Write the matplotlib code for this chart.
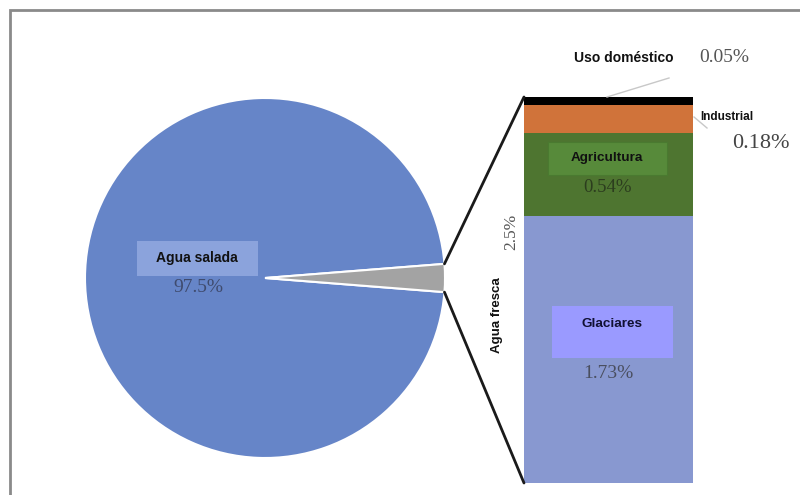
import matplotlib.pyplot as plt
from matplotlib.patches import ConnectionPatch, Rectangle
import numpy as np

# distribucion del agua (%)
pie_labels = ['Agua salada', 'Agua fresca']
pie_values = [97.5, 2.5]
bar_labels = ['Glaciares', 'Agricultura', 'Industrial', 'Uso doméstico']
bar_values = [1.73, 0.54, 0.18, 0.05]

W, H = 800, 495
fig = plt.figure(figsize=(8, 4.95), dpi=100)
fig.patch.set_facecolor('white')

def fx(x):
    return x / W

def fy(y):
    return 1 - y / H

sans = ['Liberation Sans', 'DejaVu Sans']
serif = ['Liberation Serif', 'DejaVu Serif']

# marco gris
fig.patches.append(Rectangle((fx(10), fy(505)), fx(800), 495 / H,
                             transform=fig.transFigure, fill=False,
                             edgecolor='#8a8a8a', linewidth=2))

# pastel
ax1 = fig.add_axes([fx(85), fy(458), 360 / W, 360 / H])
ang = 360 * pie_values[1] / sum(pie_values) / 2
wedges, _ = ax1.pie(pie_values, startangle=ang, colors=['#6685c8', '#a3a3a3'],
                    wedgeprops=dict(edgecolor='white', linewidth=1.5))
ax1.set_xlim(-1, 1)
ax1.set_ylim(-1, 1)
ax1.set_aspect('equal')
ax1.axis('off')

# barra apilada
ax2 = fig.add_axes([fx(524), fy(483), 169 / W, 386 / H])
bar_colors = ['#8898d0', '#4e7530', '#d0733a', '#000000']
bottom = 0
for v, c in zip(bar_values, bar_colors):
    ax2.bar(0, v, width=1, bottom=bottom, color=c, linewidth=0)
    bottom += v
ax2.set_xlim(-0.5, 0.5)
ax2.set_ylim(0, sum(bar_values))
ax2.axis('off')

# lineas de conexion
r = 1.0
for sgn, yb in [(1, sum(bar_values)), (-1, 0)]:
    x0 = r * np.cos(np.radians(ang))
    y0 = sgn * r * np.sin(np.radians(ang))
    con = ConnectionPatch(xyA=(-0.5, yb), coordsA=ax2.transData,
                          xyB=(x0, y0), coordsB=ax1.transData,
                          color='#1a1a1a', linewidth=2)
    fig.add_artist(con)

def box(x0, y0, x1, y1, fc, ec='none'):
    fig.patches.append(Rectangle((fx(x0), fy(y1)), (x1 - x0) / W, (y1 - y0) / H,
                                 transform=fig.transFigure, facecolor=fc,
                                 edgecolor=ec, linewidth=0.8, zorder=3))

# etiquetas
box(137, 241, 258, 276, '#8ba3dc')
fig.text(fx(197), fy(258), 'Agua salada', ha='center', va='center',
         family=sans, weight='bold', fontsize=10, color='#111111', zorder=4)
fig.text(fx(198), fy(288), f'{pie_values[0]}%', ha='center', va='center',
         family=serif, fontsize=14, color='#3f4b6e', zorder=4)

box(548, 142, 667, 175, '#578a3a', '#4a7a30')
fig.text(fx(607), fy(158), bar_labels[1], ha='center', va='center',
         family=sans, weight='bold', fontsize=9.7, color='#111111', zorder=4)
fig.text(fx(607), fy(187), f'{bar_values[1]}%', ha='center', va='center',
         family=serif, fontsize=13.5, color='#2c3d1e', zorder=4)

box(552, 306, 673, 358, '#9a9aff')
fig.text(fx(612), fy(324), bar_labels[0], ha='center', va='center',
         family=sans, weight='bold', fontsize=9.7, color='#111133', zorder=4)
fig.text(fx(608), fy(373), f'{bar_values[0]}%', ha='center', va='center',
         family=serif, fontsize=14, color='#4a4f60', zorder=4)

fig.text(fx(624), fy(58), bar_labels[3], ha='center', va='center',
         family=sans, weight='bold', fontsize=10, color='#111111')
fig.text(fx(724), fy(58), f'{bar_values[3]}%', ha='center', va='center',
         family=serif, fontsize=14, color='#555555')
fig.add_artist(plt.Line2D([fx(607), fx(669)], [fy(97), fy(78)],
                          color='#c8c8c8', linewidth=1))

fig.text(fx(727), fy(117), bar_labels[2], ha='center', va='center',
         family=sans, weight='bold', fontsize=8.5, color='#111111')
fig.text(fx(761), fy(144), f'{bar_values[2]}%', ha='center', va='center',
         family=serif, fontsize=16, color='#444444')
fig.add_artist(plt.Line2D([fx(694), fx(707)], [fy(117), fy(128)],
                          color='#c8c8c8', linewidth=1))

fig.text(fx(497), fy(315), pie_labels[1], ha='center', va='center', rotation=90,
         family=sans, weight='bold', fontsize=9.5, color='#111111')
fig.text(fx(511), fy(232), f'{pie_values[1]}%', ha='center', va='center', rotation=90,
         family=serif, fontsize=12.5, color='#555555')

fig.savefig('out.png', dpi=100, facecolor='white')
